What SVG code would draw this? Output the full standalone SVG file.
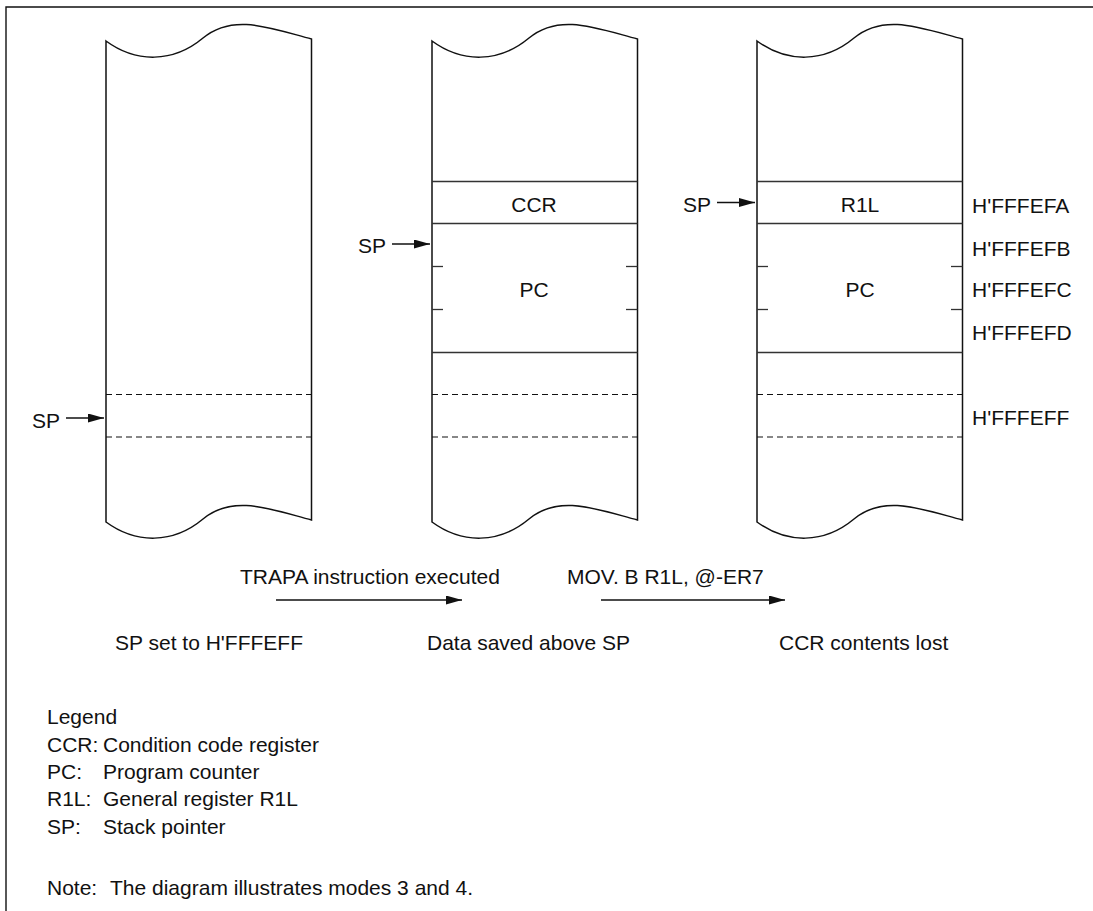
<svg xmlns="http://www.w3.org/2000/svg" width="1093" height="911" viewBox="0 0 1093 911">
<style>
text{font-family:"Liberation Sans",Arial,sans-serif;font-size:21px;fill:#111}
.col{fill:#fff;stroke:#111;stroke-width:1.5}
.ln{stroke:#333;stroke-width:1.3;fill:none}
.dash{stroke:#111;stroke-width:1.2;stroke-dasharray:6 4;fill:none}
.arr{stroke:#111;stroke-width:1.3;fill:none;marker-end:url(#ah)}
.mid{text-anchor:middle}
</style>
<defs>
<marker id="ah" markerUnits="userSpaceOnUse" markerWidth="16" markerHeight="10" refX="16" refY="4.5" orient="auto"><path d="M0,0 L16,4.5 L0,9 Z" fill="#111"/></marker>
<path id="colshape" d="M0,41 C30,63 67,63 97,38 C127,13 164,28 205.5,39 L205.5,520 C164,509 127,494 97,519 C67,544 30,544 0,522 Z"/>
</defs>
<rect width="1093" height="911" fill="#fff"/>
<path d="M6,911 L6,7 L1093,7" fill="none" stroke="#111" stroke-width="1.4"/>

<g id="col1">
<use href="#colshape" class="col" transform="translate(106,0)"/>
<line class="dash" x1="106" y1="394.5" x2="311.5" y2="394.5"/>
<line class="dash" x1="106" y1="437" x2="311.5" y2="437"/>
<text x="32" y="428">SP</text>
</g>

<g id="col2">
<use href="#colshape" class="col" transform="translate(432,0)"/>
<line class="ln" x1="432" y1="181.5" x2="637.5" y2="181.5"/>
<line class="ln" x1="432" y1="223.5" x2="637.5" y2="223.5"/>
<line class="ln" x1="432" y1="352.5" x2="637.5" y2="352.5"/>
<line class="ln" x1="432" y1="266.5" x2="443" y2="266.5"/>
<line class="ln" x1="432" y1="309.5" x2="443" y2="309.5"/>
<line class="ln" x1="626" y1="266.5" x2="637.5" y2="266.5"/>
<line class="ln" x1="626" y1="309.5" x2="637.5" y2="309.5"/>
<line class="dash" x1="432" y1="394.5" x2="637.5" y2="394.5"/>
<line class="dash" x1="432" y1="437" x2="637.5" y2="437"/>
<text class="mid" x="534" y="212">CCR</text>
<text class="mid" x="534" y="297">PC</text>
<text x="358" y="253">SP</text>
</g>

<g id="col3">
<use href="#colshape" class="col" transform="translate(757,0)"/>
<line class="ln" x1="757" y1="181.5" x2="962.5" y2="181.5"/>
<line class="ln" x1="757" y1="223.5" x2="962.5" y2="223.5"/>
<line class="ln" x1="757" y1="352.5" x2="962.5" y2="352.5"/>
<line class="ln" x1="757" y1="266.5" x2="768" y2="266.5"/>
<line class="ln" x1="757" y1="309.5" x2="768" y2="309.5"/>
<line class="ln" x1="951" y1="266.5" x2="962.5" y2="266.5"/>
<line class="ln" x1="951" y1="309.5" x2="962.5" y2="309.5"/>
<line class="dash" x1="757" y1="394.5" x2="962.5" y2="394.5"/>
<line class="dash" x1="757" y1="437" x2="962.5" y2="437"/>
<text class="mid" x="860" y="212">R1L</text>
<text class="mid" x="860" y="297">PC</text>
<text x="683" y="212">SP</text>
</g>

<g id="addresses">
<text x="972" y="212.5">H'FFFEFA</text>
<text x="972" y="255.5">H'FFFEFB</text>
<text x="972" y="297">H'FFFEFC</text>
<text x="972" y="340">H'FFFEFD</text>
<text x="972" y="425">H'FFFEFF</text>
</g>

<g id="connectors">
<line class="arr" x1="66" y1="418" x2="104" y2="418"/>
<line class="arr" x1="392" y1="244" x2="430" y2="244"/>
<line class="arr" x1="717" y1="202.5" x2="755" y2="202.5"/>
<line class="arr" x1="276" y1="600" x2="462" y2="600"/>
<line class="arr" x1="601" y1="600" x2="785" y2="600"/>
</g>

<g id="captions">
<text x="240" y="584">TRAPA instruction executed</text>
<text x="567" y="584">MOV. B R1L, @-ER7</text>
<text x="115" y="650">SP set to H'FFFEFF</text>
<text x="427" y="650">Data saved above SP</text>
<text x="779" y="650">CCR contents lost</text>
</g>

<g id="legend">
<text x="47" y="724">Legend</text>
<text x="47" y="752">CCR:</text><text x="103" y="752">Condition code register</text>
<text x="47" y="779">PC:</text><text x="103" y="779">Program counter</text>
<text x="47" y="806">R1L:</text><text x="103" y="806">General register R1L</text>
<text x="47" y="834">SP:</text><text x="103" y="834">Stack pointer</text>
<text x="47" y="895">Note:<tspan x="110">The diagram illustrates modes 3 and 4.</tspan></text>
</g>
</svg>
